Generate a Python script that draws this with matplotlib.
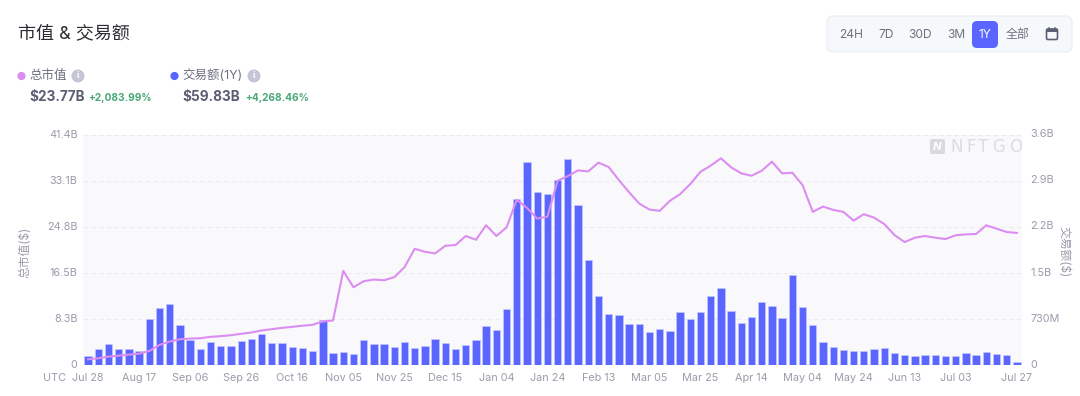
import matplotlib
matplotlib.use("Agg")
import matplotlib.pyplot as plt
from matplotlib.patches import FancyBboxPatch, Circle, Rectangle
from matplotlib.transforms import ScaledTranslation

plt.rcParams['font.family'] = ['Inter', 'Noto Sans CJK SC', 'DejaVu Sans']

# volume bars, in billions
volume = [0.149, 0.25, 0.335, 0.25, 0.25, 0.228, 0.728, 0.898, 0.972, 0.638, 0.398, 0.25, 0.372, 0.308,
          0.303, 0.383, 0.42, 0.499, 0.345, 0.345, 0.282, 0.266, 0.223, 0.707, 0.191, 0.202, 0.17,
          0.404, 0.335, 0.335, 0.287, 0.367, 0.276, 0.303, 0.42, 0.351, 0.25, 0.324, 0.404, 0.616, 0.558,
          0.893, 2.635, 3.225, 2.741, 2.715, 2.943, 3.273, 2.545, 1.663, 1.1, 0.802, 0.792, 0.643, 0.653,
          0.521, 0.579, 0.537, 0.839, 0.723, 0.834, 1.1,
          1.217, 0.855, 0.659, 0.765, 0.994, 0.93, 0.739, 1.429, 0.924, 0.627, 0.372, 0.292, 0.244, 0.223,
          0.223, 0.26, 0.271, 0.191, 0.159, 0.138, 0.165, 0.165, 0.138, 0.143, 0.186, 0.154, 0.207, 0.181,
          0.159, 0.045]

# market cap line, in billions
market_cap = [1.03, 1.21, 1.51, 1.69, 1.87, 2.05, 2.53, 3.62, 4.22, 4.64, 4.76, 4.82, 5.07, 5.19, 5.37,
              5.61, 5.85, 6.21, 6.45, 6.69, 6.87, 7.06, 7.24, 7.84, 8.02, 16.94, 13.99,
              15.08, 15.38, 15.26, 15.8, 17.61, 20.92, 20.38, 20.08, 21.47, 21.59, 23.22, 22.55, 25.15, 23.22,
              24.78, 29.73, 28.28, 26.35, 26.71, 33.17, 34.01, 35.03, 34.85, 36.42, 35.64, 33.29, 31.11, 29.06,
              27.98, 27.74, 29.55, 30.75, 32.56, 34.79, 35.88,
              37.21, 35.58, 34.49, 34.07, 34.97, 36.6, 34.49, 34.61, 32.38, 27.56, 28.52, 27.92, 27.56, 25.99,
              27.14, 26.53, 25.39, 23.4, 22.13, 22.91, 23.22, 22.91, 22.67, 23.34, 23.52, 23.58, 25.15, 24.54,
              23.94, 23.77]

date_labels = ["Jul 28", "Aug 17", "Sep 06", "Sep 26", "Oct 16", "Nov 05", "Nov 25", "Dec 15", "Jan 04",
               "Jan 24", "Feb 13", "Mar 05", "Mar 25", "Apr 14", "May 04", "May 24", "Jun 13", "Jul 03", "Jul 27"]
date_index = [0, 5, 10, 15, 20, 25, 30, 35, 40, 45, 50, 55, 60, 65, 70, 75, 80, 85, 91]

left_ticks = [0, 8.28, 16.56, 24.84, 33.12, 41.4]
left_labels = ["0", "8.3B", "16.5B", "24.8B", "33.1B", "41.4B"]
right_ticks = [0, 0.73, 1.46, 2.19, 2.92, 3.65]
right_labels = ["0", "730M", "1.5B", "2.2B", "2.9B", "3.6B"]

W, H = 1080, 396
GREY = "#9a9cab"
BLUE = "#5a66ff"
PINK = "#dc8df0"


def fx(x):
    return x / W


def fy(y):
    return 1 - y / H


fig = plt.figure(figsize=(W / 100, H / 100), dpi=100, facecolor="white")
ax = fig.add_axes([fx(83), fy(365), fx(939), 230 / H], facecolor="#f8f8fb")
ax2 = ax.twinx()

xs = list(range(len(volume)))
ax2.bar(xs, volume, width=0.72, color=BLUE, edgecolor="#c9ccff", linewidth=0.4, zorder=2)
ax.plot(xs, market_cap, color=PINK, linewidth=1.5, zorder=3)

# line goes on top of the bars
ax.set_zorder(ax2.get_zorder() + 1)
ax.patch.set_visible(False)
ax2.patch.set_visible(True)
ax2.patch.set_facecolor("#f9f9fc")

ax.set_xlim(-0.5, 91.5)
ax.set_ylim(0, 41.4)
ax2.set_ylim(0, 3.65)

ax.set_yticks(left_ticks, left_labels)
ax2.set_yticks(right_ticks, right_labels)
ax.set_xticks(date_index, date_labels)

for tick in left_ticks[1:]:
    ax2.axhline(tick / 41.4 * 3.65, color="#ebebf0", linewidth=0.8, linestyle=(0, (4, 3)), zorder=1,
                clip_on=False)

for a in (ax, ax2):
    a.tick_params(length=0, labelsize=7.8, labelcolor=GREY)
    for spine in a.spines.values():
        spine.set_visible(False)
ax.tick_params(axis="x", pad=6)
ax.tick_params(axis="y", pad=4)
ax2.tick_params(axis="y", pad=6)

# value labels sit a little above their grid lines
shift = ScaledTranslation(0, 1.5 / 100, fig.dpi_scale_trans)
for label in ax.get_yticklabels() + ax2.get_yticklabels():
    label.set_transform(label.get_transform() + shift)

fig.text(fx(54), fy(378), "UTC", fontsize=7.8, color=GREY, ha="center", va="center")
fig.text(fx(25), fy(252), "总市值($)", fontsize=8.5, color=GREY, rotation=90, ha="center", va="center")
fig.text(fx(1064), fy(252), "交易额($)", fontsize=8.5, color=GREY, rotation=270, ha="center", va="center")

# title and summary header
fig.text(fx(18), fy(34), "市值 & 交易额", fontsize=13, color="#2d2d33", va="center")

header_ax = fig.add_axes([0, 0, 1, 1], facecolor="none")
header_ax.set_xlim(0, W)
header_ax.set_ylim(H, 0)
header_ax.axis("off")
header_ax.set_zorder(10)

header_ax.add_patch(Circle((21.5, 76), 3.4, color=PINK))
header_ax.add_patch(Circle((174.5, 76), 3.4, color=BLUE))
header_ax.add_patch(Circle((78, 76), 5.8, color="#c4c6d6"))
header_ax.add_patch(Circle((254, 76), 5.8, color="#c4c6d6"))
header_ax.text(78, 76, "i", fontsize=6.5, color="white", ha="center", va="center", fontweight="bold")
header_ax.text(254, 76, "i", fontsize=6.5, color="white", ha="center", va="center", fontweight="bold")

header_ax.text(29, 76, "总市值", fontsize=9, color="#6d6f80", va="center")
header_ax.text(182, 76, "交易额(1Y)", fontsize=9, color="#6d6f80", va="center")
header_ax.text(29, 97, "$23.77B", fontsize=9.8, color="#5c5e73", va="center", fontweight="bold")
header_ax.text(182, 97, "$59.83B", fontsize=9.8, color="#5c5e73", va="center", fontweight="bold")
header_ax.text(88, 98, "+2,083.99%", fontsize=7.3, color="#48a877", va="center", fontweight="bold")
header_ax.text(245, 98, "+4,268.46%", fontsize=7.3, color="#48a877", va="center", fontweight="bold")

# range selector
header_ax.add_patch(FancyBboxPatch((827, 16), 245, 36, boxstyle="round,pad=0,rounding_size=6",
                                   facecolor="#f6f9fb", edgecolor="#e9edf1", linewidth=0.8))
header_ax.add_patch(FancyBboxPatch((972, 21), 26, 27, boxstyle="round,pad=0,rounding_size=5",
                                   facecolor=BLUE, edgecolor="none"))
range_labels = ["24H", "7D", "30D", "3M", "1Y", "全部"]
range_x = [851.5, 886, 920, 956, 985, 1018]
for label, x in zip(range_labels, range_x):
    header_ax.text(x, 35, label, fontsize=8.6, ha="center", va="center",
                   color="white" if label == "1Y" else "#6f7180")

# calendar icon
header_ax.add_patch(FancyBboxPatch((1046.5, 29), 11, 10.5, boxstyle="round,pad=0,rounding_size=1.5",
                                   facecolor="#f6f9fb", edgecolor="#5c5e73", linewidth=1.2))
header_ax.add_patch(Rectangle((1046.5, 29), 11, 3.2, facecolor="#5c5e73", edgecolor="none"))
header_ax.plot([1049, 1049], [27.5, 30], color="#5c5e73", linewidth=1.1)
header_ax.plot([1055, 1055], [27.5, 30], color="#5c5e73", linewidth=1.1)

# watermark
header_ax.add_patch(FancyBboxPatch((930, 139), 15, 15, boxstyle="round,pad=0,rounding_size=2",
                                   facecolor="#d9dae0", edgecolor="none"))
header_ax.text(937.5, 146.5, "N", fontsize=8, color="white", ha="center", va="center",
               fontweight="bold", fontstyle="italic")
for letter, x in zip("NFTGO", [957, 971, 983, 999, 1016]):
    header_ax.text(x, 147, letter, fontsize=12, color="#dcdde3", ha="center", va="center",
                   family="DejaVu Sans")

fig.savefig("out.png", dpi=100)
